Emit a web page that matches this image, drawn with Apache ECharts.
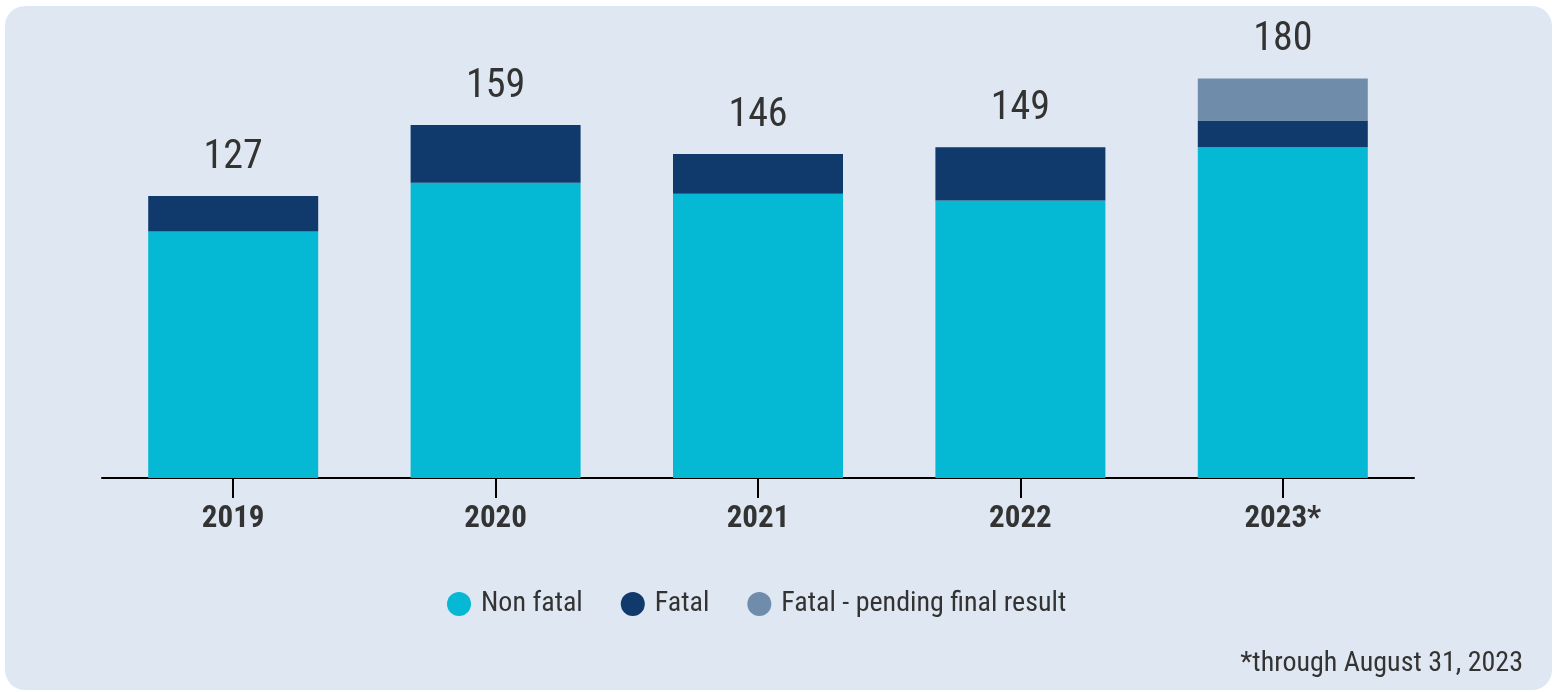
<!DOCTYPE html>
<html>
<head>
<meta charset="utf-8">
<script src="https://cdn.jsdelivr.net/npm/echarts@6/dist/echarts.min.js"></script>
<style>
  html, body { margin: 0; padding: 0; background: #ffffff; }
  #chart { width: 1557px; height: 692px; }
</style>
</head>
<body>
<div id="chart"></div>
<script>
var years = ['2019', '2020', '2021', '2022', '2023*'];
var nonFatal = [111, 133, 128, 125, 149];
var fatal = [16, 26, 18, 24, 12];
var pending = [0, 0, 0, 0, 19];
var totals = years.map(function (y, i) { return nonFatal[i] + fatal[i] + pending[i]; });

var font = '"Roboto Condensed", "Liberation Sans Narrow", "Arial Narrow", Roboto, sans-serif';

var myChart = echarts.init(document.getElementById('chart'));
var option = {
    animation: false,
    textStyle: { fontFamily: font },
    graphic: [
        {
            type: 'rect',
            z: -10,
            shape: { x: 5, y: 6, width: 1547, height: 684, r: 20 },
            style: { fill: '#dfe8f2' }
        },
        {
            type: 'text',
            right: 34,
            top: 650,
            style: { text: '*through August 31, 2023', fill: '#333333', font: '28px ' + font }
        }
    ],
    legend: {
        data: ['Non fatal', 'Fatal', 'Fatal - pending final result'],
        bottom: 69,
        left: 442,
        icon: 'circle',
        itemWidth: 24,
        itemHeight: 24,
        itemGap: 38,
        textStyle: { fontSize: 28, color: '#333333', fontFamily: font, padding: [0, 0, 0, 5] }
    },
    grid: { left: 102, right: 143, top: 34, height: 444, containLabel: false },
    xAxis: {
        type: 'category',
        data: years,
        axisLine: { lineStyle: { color: '#000000', width: 2 } },
        axisTick: { show: true, alignWithLabel: true, length: 20, lineStyle: { color: '#000000', width: 2 } },
        axisLabel: { fontSize: 31, fontWeight: 'bold', color: '#333333', margin: 26, fontFamily: font }
    },
    yAxis: {
        type: 'value',
        min: 0,
        max: 200,
        show: false,
        splitLine: { show: false }
    },
    series: [
        {
            name: 'Non fatal',
            type: 'bar',
            stack: 'all',
            barWidth: 170,
            itemStyle: { color: '#05b8d3' },
            data: nonFatal
        },
        {
            name: 'Fatal',
            type: 'bar',
            stack: 'all',
            itemStyle: { color: '#0f3a6b' },
            data: fatal
        },
        {
            name: 'Fatal - pending final result',
            type: 'bar',
            stack: 'all',
            itemStyle: { color: '#6f8dab' },
            data: pending
        },
        {
            name: 'Total',
            type: 'bar',
            barGap: '-100%',
            barWidth: 170,
            itemStyle: { color: 'rgba(0,0,0,0)' },
            label: {
                show: true,
                position: 'top',
                distance: 18,
                fontSize: 40,
                color: '#333333',
                fontFamily: font
            },
            silent: true,
            z: -1,
            data: totals
        }
    ]
};
myChart.setOption(option);
</script>
</body>
</html>
